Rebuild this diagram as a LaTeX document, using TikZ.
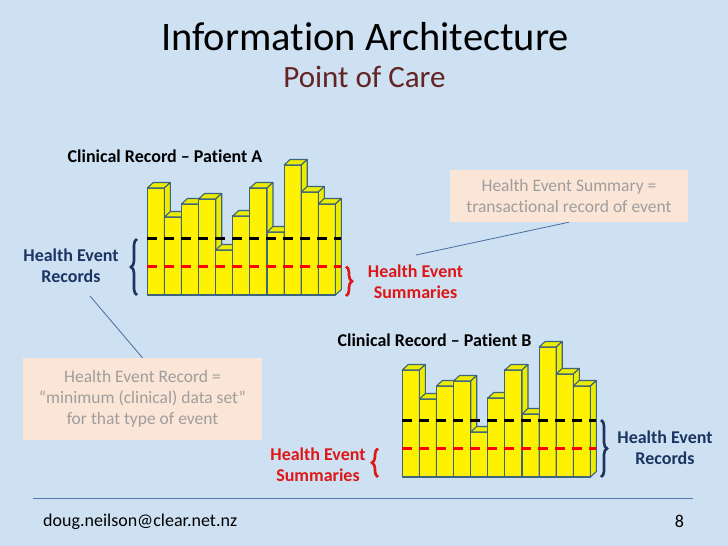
\documentclass[tikz,border=0pt]{standalone}
\usepackage{fontspec}
\setmainfont{Carlito}[Ligatures=NoCommon]
\usetikzlibrary{decorations.pathreplacing}
\definecolor{bg}{RGB}{206,225,243}
\definecolor{navy}{RGB}{28,52,98}
\definecolor{redt}{RGB}{222,22,22}
\definecolor{subt}{RGB}{99,36,35}
\definecolor{peach}{RGB}{251,229,214}
\definecolor{graytxt}{RGB}{158,158,158}
\definecolor{edge}{RGB}{60,100,125}
\definecolor{footline}{RGB}{79,120,175}
\definecolor{barside}{RGB}{236,236,0}
\begin{document}
\begin{tikzpicture}[x=1pt,y=-1pt,
  barface/.style={fill=yellow, draw=edge, line width=1.1pt, line join=round},
  barsidef/.style={fill=barside, draw=edge, line width=1.1pt, line join=round},
  blackdash/.style={draw=black, line width=2.6pt, dash pattern=on 10pt off 7pt},
  reddash/.style={draw=red, line width=2.6pt, dash pattern=on 10pt off 7pt},
  bracestyle/.style={decorate, decoration={brace, amplitude=6pt}, line width=2.6pt},
  bluelbl/.style={text=navy, font=\bfseries\fontsize{18}{21}\selectfont, align=center, inner sep=0pt},
  redlbl/.style={text=redt, font=\bfseries\fontsize{18}{21}\selectfont, align=center, inner sep=0pt},
  chartlbl/.style={font=\bfseries\fontsize{18}{20}\selectfont, inner sep=0pt, anchor=base},
  notebox/.style={fill=peach, text=graytxt, font=\fontsize{17.5}{21}\selectfont, align=center, inner sep=0pt},
  pointer/.style={draw=footline!90!black, line width=0.8pt}
]
\fill[bg] (0,0) rectangle (728,546);
\useasboundingbox (0,0) rectangle (728,546);

% title
\node[anchor=base, font=\fontsize{40.5}{44}\selectfont, inner sep=0pt] (title) at (365,50) {Information Architecture};
\node[anchor=base, text=subt, font=\fontsize{31}{34}\selectfont, inner sep=0pt] (sub) at (364.5,87) {Point of Care};

% charts
\foreach \sx/\sy in {0/0, 255/182}{
  \begin{scope}[shift={(\sx,\sy)}]
    \foreach \h [count=\i from 0] in {107,78,91,96,45,79,107,63,130,103,91}{
      \pgfmathsetmacro\xl{147.3+17.1*\i}
      \pgfmathsetmacro\xr{\xl+17.1}
      \draw[barface] (\xl,295) rectangle (\xr,295-\h);
      \draw[barsidef] (\xl,295-\h) -- (\xl+6,289.5-\h) -- (\xr+6,289.5-\h) -- (\xr,295-\h) -- cycle;
      \draw[barsidef] (\xr,295) -- (\xr,295-\h) -- (\xr+6,289.5-\h) -- (\xr+6,289.5) -- cycle;
    }
    \draw[blackdash] (147.3,238.3) -- (341,238.3);
    \draw[reddash] (147.3,266.7) -- (341,266.7);
  \end{scope}
}

% chart labels
\node[chartlbl] (lblA) at (165,162.5) {Clinical Record – Patient A};
\node[chartlbl] (lblB) at (434.5,346) {Clinical Record – Patient B};

% Patient A labels and braces
\node[bluelbl] (recA) at (71,266) {Health Event\\Records};
\draw[bracestyle, navy] (137,295) -- (137,239);
\node[redlbl] (sumA) at (415.5,282) {Health Event\\Summaries};
\draw[bracestyle, redt] (346,266.5) -- (346,296);

% Patient B labels and braces
\node[redlbl] (sumB) at (318,465) {Health Event\\Summaries};
\draw[bracestyle, redt] (378,477) -- (378,448.5);
\node[bluelbl] (recB) at (665,448) {Health Event\\Records};
\draw[bracestyle, navy] (601,420) -- (601,477);

% note boxes
\node[notebox, minimum width=238pt, minimum height=52pt] (noteS) at (569,196) {Health Event Summary =\\transactional record of event};
\node[notebox, minimum width=239pt, minimum height=82pt] (noteR) at (142.5,399) {Health Event Record =\\“minimum (clinical) data set”\\for that type of event};

\coordinate (pS) at (416,255);
\coordinate (pR) at (90,296);
\draw[pointer] (noteS.south) -- (pS);
\draw[pointer] (noteR.north) -- (pR);

% footer
\coordinate (fl) at (33,498.5);
\coordinate (fr) at (693,498.5);
\draw[draw=footline, line width=1pt] (fl) -- (fr);
\node[anchor=base west, inner sep=0pt, font=\fontsize{18}{20}\selectfont] (mail) at (43,526.7) {doug.neilson@clear.net.nz};
\node[anchor=base, inner sep=0pt, font=\fontsize{18}{20}\selectfont] (page) at (679.5,527.5) {8};
\end{tikzpicture}
\end{document}
